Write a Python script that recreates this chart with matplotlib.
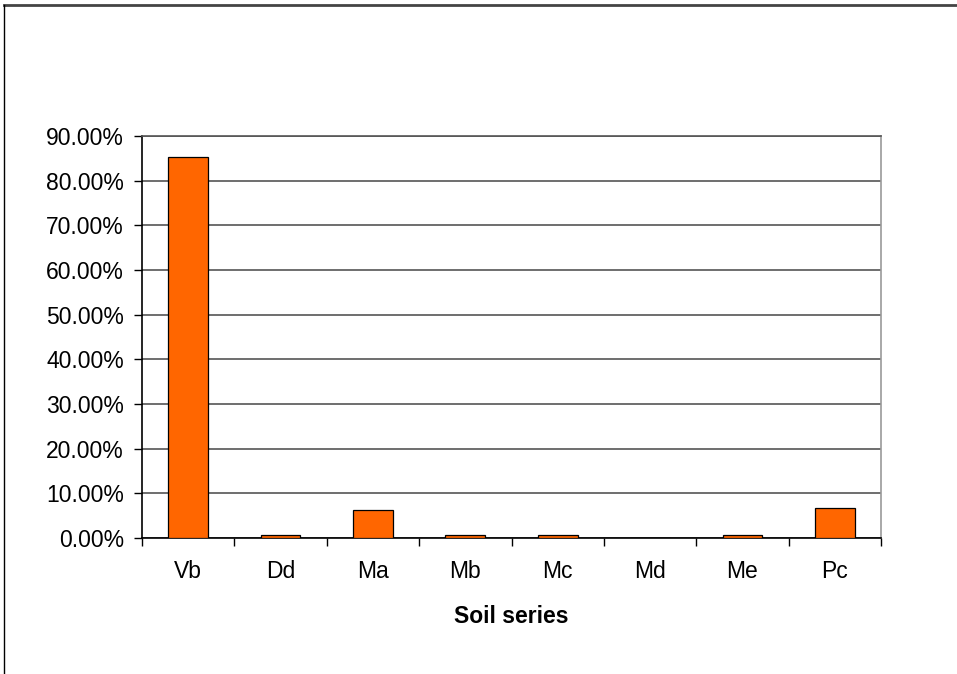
import matplotlib
matplotlib.use("Agg")
import matplotlib.pyplot as plt
from matplotlib.lines import Line2D
from matplotlib.ticker import FuncFormatter, MultipleLocator

categories = ["Vb", "Dd", "Ma", "Mb", "Mc", "Md", "Me", "Pc"]
values = [85.3, 0.6, 6.2, 0.6, 0.6, 0.0, 0.6, 6.7]
x_label = "Soil series"

plt.rcParams['font.family'] = ['Liberation Sans', 'DejaVu Sans']

fig = plt.figure(figsize=(9.57, 6.74), dpi=100)
ax = fig.add_axes([142/957, 1-538/674, (881-142)/957, (538-136)/674])

xs = list(range(len(categories)))
ax.bar(xs, values, width=0.43, color="#FF6600", edgecolor="black", linewidth=0.9, zorder=3)

ax.set_xlim(-0.5, len(categories)-0.5)
ax.set_ylim(0, 90)
ax.yaxis.set_major_locator(MultipleLocator(10))
ax.yaxis.set_major_formatter(FuncFormatter(lambda v, p: f"{v:.2f}%"))
ax.set_xticks(xs)
ax.set_xticklabels(categories)
ax.set_xticks([i - 0.5 for i in range(len(categories)+1)], minor=True)
ax.tick_params(axis='x', which='major', length=0, pad=15.5, labelsize=16.5)
ax.tick_params(axis='x', which='minor', length=6, width=1, direction='out', color='black')
ax.tick_params(axis='y', length=6, width=1, direction='out', labelsize=16.5, pad=7)

ax.grid(axis='y', color='#555555', linewidth=1.2, zorder=0)
for s in ['top', 'right']:
    ax.spines[s].set_color('#999999')
    ax.spines[s].set_linewidth(1.2)
ax.spines['top'].set_color('#555555')
for s in ['left', 'bottom']:
    ax.spines[s].set_color('black')
    ax.spines[s].set_linewidth(1.2)

ax.set_xlabel(x_label, fontsize=16.5, fontweight='bold', labelpad=16)

fig.add_artist(Line2D([4/957, 1.0], [1-5/674, 1-5/674], color='#444444', linewidth=2, transform=fig.transFigure))
fig.add_artist(Line2D([4/957, 4/957], [0, 1-5/674], color='black', linewidth=1, transform=fig.transFigure))

fig.savefig("out.png", dpi=100)
